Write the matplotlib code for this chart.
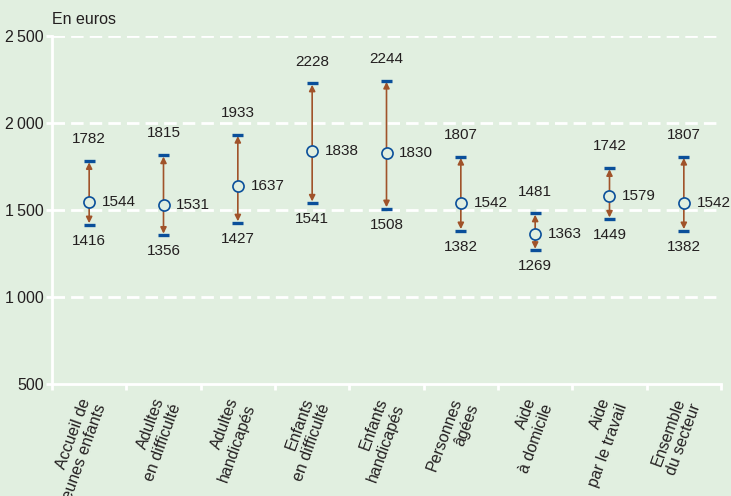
import numpy as np
import matplotlib
matplotlib.use("Agg")
import matplotlib.pyplot as plt
import matplotlib.transforms as mtransforms

categories = ["Accueil de\njeunes enfants", "Adultes\nen difficulté", "Adultes\nhandicapés",
              "Enfants\nen difficulté", "Enfants\nhandicapés", "Personnes\nâgées",
              "Aide\nà domicile", "Aide\npar le travail", "Ensemble\ndu secteur"]
low = [1416, 1356, 1427, 1541, 1508, 1382, 1269, 1449, 1382]
high = [1782, 1815, 1933, 2228, 2244, 1807, 1481, 1742, 1807]
median = [1544, 1531, 1637, 1838, 1830, 1542, 1363, 1579, 1542]
yticks = [500, 1000, 1500, 2000, 2500]
ytick_labels = ["500", "1\u2009000", "1\u2009500", "2\u2009000", "2\u2009500"]

bg = "#e1efe0"
blue = "#0a4f9a"
brown = "#a0532a"
txt = "#231f20"

plt.rcParams["font.family"] = ["Liberation Sans", "DejaVu Sans"]

fig = plt.figure(figsize=(7.31, 4.96), dpi=100, facecolor=bg)
ax = fig.add_axes([52 / 731, 112 / 496, 669 / 731, 348 / 496], facecolor=bg)

x = np.arange(len(categories))
for i in x:
    ax.annotate("", xy=(i, high[i] - 8), xytext=(i, low[i] + 8),
                arrowprops=dict(arrowstyle="<|-|>", color=brown, lw=1.2,
                                mutation_scale=9, shrinkA=0, shrinkB=0))
ax.hlines(low, x - 0.075, x + 0.075, color=blue, lw=2.4, zorder=4)
ax.hlines(high, x - 0.075, x + 0.075, color=blue, lw=2.4, zorder=4)
ax.plot(x, median, "o", ms=8, mfc=bg, mec=blue, mew=1.2, zorder=5)

for i in x:
    ax.text(i, high[i] + 125, str(high[i]), ha="center", va="center", fontsize=11, color=txt)
    ax.text(i, low[i] - 92, str(low[i]), ha="center", va="center", fontsize=11, color=txt)
    ax.text(i + 0.17, median[i], str(median[i]), ha="left", va="center", fontsize=11, color=txt)

ax.set_xlim(-0.5, len(categories) - 0.5)
ax.set_ylim(500, 2500)
ax.set_yticks(yticks)
ax.set_yticklabels(ytick_labels, fontsize=11.5, color=txt)
for y in yticks[1:]:
    ax.axhline(y, color="white", lw=2, ls=(0, (4.5, 2.2)), zorder=1)

ax.set_xticks(np.arange(-0.5, len(categories)))
ax.set_xticklabels([])
ax.tick_params(axis="x", length=4, width=2, color="white", direction="out")
ax.tick_params(axis="y", length=4, width=2, color="white", pad=2)
trans = mtransforms.blended_transform_factory(ax.transData, ax.transAxes)
for i, lab in enumerate(categories):
    ax.text(i - 0.14, -0.035, lab, transform=trans, rotation=70, ha="right", va="top",
            fontsize=11.5, color=txt, rotation_mode="anchor", multialignment="right")

for s in ["top", "right"]:
    ax.spines[s].set_visible(False)
for s in ["left", "bottom"]:
    ax.spines[s].set_color("white")
    ax.spines[s].set_linewidth(2)

fig.text(52 / 731, 1 - 19 / 496, "En euros", ha="left", va="center", fontsize=11.5, color=txt)

fig.savefig("out.png", dpi=100, facecolor=bg)
